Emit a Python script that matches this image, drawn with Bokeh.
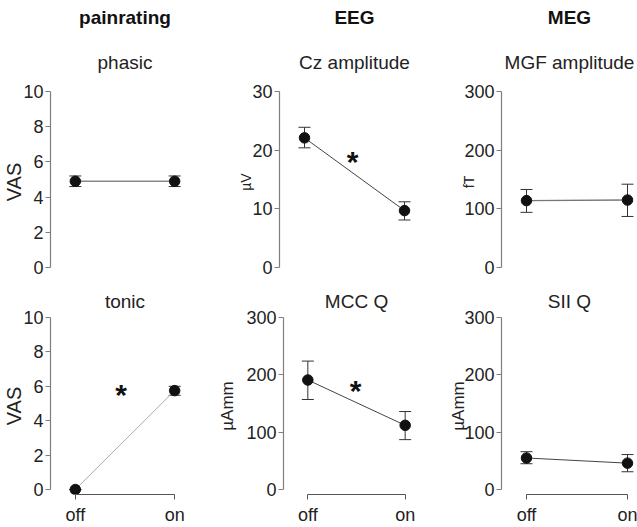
from bokeh.plotting import figure
from bokeh.layouts import column, row
from bokeh.models import Whisker, ColumnDataSource, FixedTicker, Title, Range1d, TeeHead
from bokeh.embed import file_html
from bokeh.resources import INLINE
from bokeh.core.properties import value

# ---------------- data ----------------
cond_x = [0, 1]
cond_labels = ["off", "on"]

headers = ["painrating", "EEG", "MEG"]

phasic_mean = [4.9, 4.9]
phasic_lo = [4.6, 4.6]
phasic_hi = [5.2, 5.2]

cz_mean = [22.1, 9.7]
cz_lo = [20.4, 8.1]
cz_hi = [23.9, 11.2]

mgf_mean = [114, 115]
mgf_lo = [94, 87]
mgf_hi = [133, 142]

tonic_mean = [0.0, 5.75]
tonic_lo = [0.0, 5.48]
tonic_hi = [0.0, 6.0]

mcc_mean = [191, 112]
mcc_lo = [157, 87]
mcc_hi = [224, 136]

sii_mean = [55, 46]
sii_lo = [45, 31]
sii_hi = [66, 61]

vas_ticks = [0, 2, 4, 6, 8, 10]
uv_ticks = [0, 10, 20, 30]
q_ticks = [0, 100, 200, 300]

# significance stars (x, y)
tonic_star = (0.46, 5.7)
cz_star = (0.48, 18.6)
mcc_star = (0.49, 178)

FONT = "Liberation Sans"
AX = "#7f7f7f"
TXT = "#222222"

# column geometry: width, left border, right border, x-range
COLS = [
    dict(w=215, l=49, r=16, xr=(-0.25, 1.25)),
    dict(w=230, l=64, r=16, xr=(-0.25, 1.25)),
    dict(w=192, l=56, r=0, xr=(-0.2475, 1.099)),
]


def panel(col, bottom, mean, lo, hi, ymax, ticks, ylabel, subtitle,
          header=None, line_color="#444444", line_width=1.0, star=None,
          ylabel_size="17px", ylabel_standoff=0):
    g = COLS[col]
    if bottom:
        h, bt, bb, zpx = 246, 36, 32, 173.0
    else:
        h, bt, bb, zpx = 281, 91, 9, 176.0
    p = figure(width=g["w"], height=h, output_backend="svg", toolbar_location=None,
               x_range=Range1d(*g["xr"]), y_range=Range1d(-ymax * 5.0 / zpx, ymax),
               x_axis_location="below" if bottom else None,
               min_border_left=g["l"], min_border_right=g["r"],
               min_border_top=bt, min_border_bottom=bb)
    p.outline_line_color = None
    p.xgrid.visible = False
    p.ygrid.visible = False
    p.background_fill_color = "white"
    p.border_fill_color = "white"

    ya = p.yaxis[0]
    ya.ticker = FixedTicker(ticks=ticks)
    ya.bounds = (0, ymax)
    ya.axis_line_color = AX
    ya.axis_line_width = 1.2
    ya.major_tick_line_color = AX
    ya.major_tick_out = 5
    ya.major_tick_in = 0
    ya.minor_tick_line_color = None
    ya.major_label_text_font = FONT
    ya.major_label_text_font_size = "18px"
    ya.major_label_text_color = TXT
    ya.major_label_standoff = 2
    ya.axis_label = ylabel
    ya.axis_label_text_font = FONT
    ya.axis_label_text_font_size = ylabel_size
    ya.axis_label_text_font_style = "normal"
    ya.axis_label_text_color = TXT
    ya.axis_label_standoff = ylabel_standoff

    if bottom:
        xa = p.xaxis[0]
        xa.ticker = FixedTicker(ticks=cond_x)
        xa.major_label_overrides = {cond_x[i]: cond_labels[i] for i in range(2)}
        xa.bounds = (cond_x[0], cond_x[1])
        xa.axis_line_color = "#555555"
        xa.major_tick_line_color = "#555555"
        xa.major_tick_out = 5
        xa.major_tick_in = 0
        xa.minor_tick_line_color = None
        xa.major_label_text_font = FONT
        xa.major_label_text_font_size = "18px"
        xa.major_label_text_color = TXT
        xa.major_label_standoff = 5

    src = ColumnDataSource(dict(x=cond_x, m=mean, lo=lo, hi=hi))
    p.line("x", "m", source=src, line_color=line_color, line_width=line_width)
    wk = Whisker(base="x", lower="lo", upper="hi", source=src,
                 line_color="#333333", line_width=1,
                 upper_head=TeeHead(size=12, line_color="#333333", line_width=1),
                 lower_head=TeeHead(size=12, line_color="#333333", line_width=1))
    p.add_layout(wk)
    p.scatter("x", "m", source=src, size=10.5, color="#111111")

    if star is not None:
        p.text(x=[star[0]], y=[star[1]], text=["*"], text_font=value(FONT),
               text_font_size="30px", text_font_style="bold", text_color="#111111",
               text_align="center", text_baseline="middle", y_offset=3)

    p.add_layout(Title(text=subtitle, align="center", text_font=FONT,
                       text_font_size="19px", text_font_style="normal",
                       text_color=TXT, standoff=37 if header else 11), "above")
    if header is not None:
        p.add_layout(Title(text=header, align="center", text_font=FONT,
                           text_font_size="19px", text_font_style="bold",
                           text_color="#111111", standoff=8), "above")
    return p


p1 = panel(0, False, phasic_mean, phasic_lo, phasic_hi, 10, vas_ticks, "VAS", "phasic",
           header=headers[0], line_color="#888888", line_width=1.6,
           ylabel_size="20px", ylabel_standoff=-5)
p2 = panel(1, False, cz_mean, cz_lo, cz_hi, 30, uv_ticks, "µV", "Cz amplitude",
           header=headers[1], line_color="#444444", star=cz_star,
           ylabel_size="14px", ylabel_standoff=-5)
p3 = panel(2, False, mgf_mean, mgf_lo, mgf_hi, 300, q_ticks, "fT", "MGF amplitude",
           header=headers[2], line_color="#777777", line_width=1.4,
           ylabel_size="14px", ylabel_standoff=-16)
p4 = panel(0, True, tonic_mean, tonic_lo, tonic_hi, 10, vas_ticks, "VAS", "tonic",
           line_color="#aaaaaa", line_width=1.0, star=tonic_star,
           ylabel_size="20px", ylabel_standoff=-5)
p5 = panel(1, True, mcc_mean, mcc_lo, mcc_hi, 300, q_ticks, "µAmm", "MCC Q",
           line_color="#444444", star=mcc_star, ylabel_size="17px", ylabel_standoff=6)
p6 = panel(2, True, sii_mean, sii_lo, sii_hi, 300, q_ticks, "µAmm", "SII Q",
           line_color="#444444", ylabel_size="17px", ylabel_standoff=-7)

layout = column(row(p1, p2, p3), row(p4, p5, p6))
open("out.html", "w").write(file_html(layout, INLINE))
